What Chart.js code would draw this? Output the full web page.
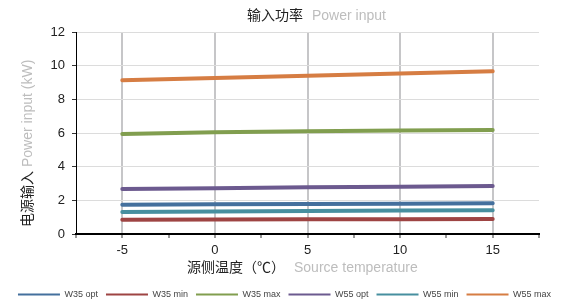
<!DOCTYPE html>
<html>
<head>
<meta charset="utf-8">
<script src="https://cdn.jsdelivr.net/npm/chart.js@4/dist/chart.umd.min.js"></script>
<style>
  html, body { margin: 0; padding: 0; background: #fff; }
  #wrap { width: 569px; height: 305px; position: relative; }
</style>
</head>
<body>
<div id="wrap"><canvas id="myChart" width="569" height="305"></canvas></div>
<script>
// source temperature (°C)
var temps = [-5, 0, 5, 10, 15];

// power input (kW)
var w35opt = [1.74, 1.76, 1.78, 1.80, 1.82];
var w35min = [0.85, 0.86, 0.87, 0.88, 0.89];
var w35max = [5.94, 6.04, 6.10, 6.15, 6.18];
var w55opt = [2.67, 2.72, 2.77, 2.81, 2.85];
var w55min = [1.31, 1.34, 1.37, 1.39, 1.41];
var w55max = [9.13, 9.27, 9.40, 9.54, 9.67];

var seriesNames = ['W35 opt', 'W35 min', 'W35 max', 'W55 opt', 'W55 min', 'W55 max'];
var seriesValues = [w35opt, w35min, w35max, w55opt, w55min, w55max];
var seriesColors = ['#44709d', '#9e4443', '#819e4f', '#6c5a8f', '#478f9f', '#d67d43'];

var yTicks = { min: 0, max: 12, step: 2 };
var xTicks = { min: -7.5, max: 17.5, step: 2.5 };

var latin = '"Liberation Sans", "Noto Sans CJK SC", sans-serif';

function points(values) {
	var pts = [];
	for (var i = 0; i < temps.length; i++) {
		pts.push({ x: temps[i], y: values[i] });
	}
	return pts;
}

var datasets = [];
for (var i = 0; i < seriesNames.length; i++) {
	datasets.push({
		label: seriesNames[i],
		data: points(seriesValues[i]),
		borderColor: seriesColors[i],
		backgroundColor: seriesColors[i],
		borderWidth: 4,
		borderCapStyle: 'round',
		pointRadius: 0,
		tension: 0,
		fill: false
	});
}

// two-colour titles (Chinese dark, English grey)
var titles = {
	id: 'titles',
	afterDraw: function(chart) {
		var ctx = chart.ctx;
		ctx.save();
		ctx.textBaseline = 'middle';
		ctx.textAlign = 'left';

		ctx.font = '14px ' + latin;
		ctx.fillStyle = '#222';
		ctx.fillText('输入功率', 247, 16);
		ctx.fillStyle = '#bdbdbd';
		ctx.fillText('Power input', 312, 16);

		ctx.fillStyle = '#222';
		ctx.fillText('源侧温度（℃）', 187, 268);
		ctx.fillStyle = '#bdbdbd';
		ctx.fillText('Source temperature', 294, 268);

		ctx.translate(28, 227);
		ctx.rotate(-Math.PI / 2);
		ctx.fillStyle = '#222';
		ctx.fillText('电源输入', 0, 0);
		ctx.fillStyle = '#bdbdbd';
		ctx.fillText('Power input (kW)', 60, 0);
		ctx.restore();
	}
};

var ctx = document.getElementById('myChart').getContext('2d');
var myChart = new Chart(ctx, {
	type: 'line',
	data: { datasets: datasets },
	plugins: [titles],
	options: {
		responsive: false,
		animation: false,
		layout: { padding: { top: 32, left: 0, right: 0, bottom: -4 } },
		plugins: {
			title: { display: false },
			tooltip: { enabled: false },
			legend: {
				position: 'bottom',
				labels: {
					boxWidth: 42,
					boxHeight: 2,
					padding: 8,
					color: '#444',
					font: { size: 9, family: latin },
					generateLabels: function(chart) {
						var items = Chart.defaults.plugins.legend.labels.generateLabels(chart);
						items.forEach(function(it) { it.lineWidth = 0; });
						return items;
					}
				}
			}
		},
		scales: {
			x: {
				type: 'linear',
				min: xTicks.min,
				max: xTicks.max,
				afterFit: function(scale) { scale.height = 48; },
				ticks: {
					stepSize: xTicks.step,
					autoSkip: false,
					maxRotation: 0,
					padding: 5,
					color: '#222',
					font: { size: 13, family: latin },
					callback: function(v) { return v % 5 === 0 ? v : ''; }
				},
				grid: {
					color: function(c) { return c.tick && c.tick.value % 5 === 0 ? '#c6c6c8' : 'rgba(0,0,0,0)'; },
					lineWidth: 2,
					tickColor: '#333',
					tickWidth: 1,
					tickLength: 4
				},
				border: { color: '#000', width: 2 }
			},
			y: {
				min: yTicks.min,
				max: yTicks.max,
				afterFit: function(scale) { scale.width = 76; },
				ticks: {
					stepSize: yTicks.step,
					padding: 7,
					color: '#222',
					font: { size: 13, family: latin }
				},
				grid: {
					color: '#dcdcdc',
					lineWidth: 1,
					tickColor: '#333',
					tickLength: 4
				},
				border: { color: '#000', width: 1 }
			},
			yr: {
				position: 'right',
				min: yTicks.min,
				max: yTicks.max,
				afterFit: function(scale) { scale.width = 30; },
				ticks: { display: false },
				grid: { display: false },
				border: { display: false }
			}
		}
	}
});
</script>
</body>
</html>
